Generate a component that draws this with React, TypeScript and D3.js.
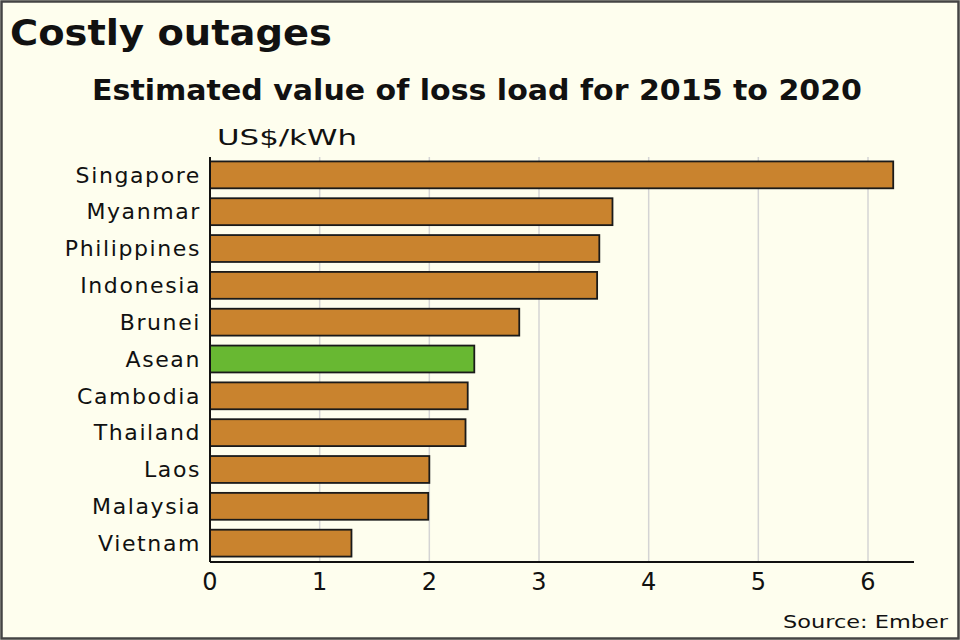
import React from "react";
import * as d3 from "d3";

const countries = ["Singapore", "Myanmar", "Philippines", "Indonesia", "Brunei", "Asean", "Cambodia", "Thailand", "Laos", "Malaysia", "Vietnam"];
const values = [6.23, 3.67, 3.55, 3.53, 2.82, 2.41, 2.35, 2.33, 2.0, 1.99, 1.29];
const ticks = [0, 1, 2, 3, 4, 5, 6];

const W = 960, H = 640;
const FONT = "'DejaVu Sans', 'Open Sans', sans-serif";

export default function App() {
  const x = d3.scaleLinear().domain([0, 6]).range([210, 868]);
  const y = d3.scaleBand<string>().domain(countries).range([157, 561]).paddingInner(0.27).paddingOuter(0.12);
  return (
    <svg width={W} height={H} style={{ position: "fixed", left: 0, top: 0 }} fontFamily={FONT}>
      <rect x={0} y={0} width={W} height={H} fill="#fefeee" />
      <rect x={1.5} y={1.5} width={W - 3} height={H - 3} fill="none" stroke="#444" strokeWidth={2.5} />
      <text x={10} y={45} fontSize={36} fontWeight="bold" fill="#111" textLength={322} lengthAdjust="spacingAndGlyphs">Costly outages</text>
      <text x={92} y={100} fontSize={28} fontWeight="bold" fill="#111" textLength={770} lengthAdjust="spacingAndGlyphs">Estimated value of loss load for 2015 to 2020</text>
      <text x={217} y={145} fontSize={22} fill="#111" textLength={140} lengthAdjust="spacingAndGlyphs">US$/kWh</text>
      {ticks.map((t) => (
        <line key={"g" + t} x1={x(t)} x2={x(t)} y1={157} y2={562} stroke="#d4d4d4" strokeWidth={1.5} />
      ))}
      {countries.map((c, i) => (
        <g key={c}>
          <rect x={x(0)} y={y(c)!} width={x(values[i]) - x(0)} height={y.bandwidth()}
            fill={c === "Asean" ? "#68b832" : "#c9832e"} stroke="#1a1a1a" strokeWidth={1.8} />
          <text x={201} y={y(c)! + y.bandwidth() / 2} dy="0.35em" textAnchor="end" fontSize={22} letterSpacing={1.6} fill="#111">{c}</text>
        </g>
      ))}
      <line x1={x(0)} x2={x(0)} y1={157} y2={562} stroke="#111" strokeWidth={2} />
      <line x1={x(0)} x2={914} y1={562} y2={562} stroke="#111" strokeWidth={2} />
      {ticks.map((t) => (
        <text key={"t" + t} x={x(t)} y={590} textAnchor="middle" fontSize={24} fill="#111">{t}</text>
      ))}
      <text x={783} y={628} fontSize={18} fill="#111" textLength={165} lengthAdjust="spacingAndGlyphs">Source: Ember</text>
    </svg>
  );
}
